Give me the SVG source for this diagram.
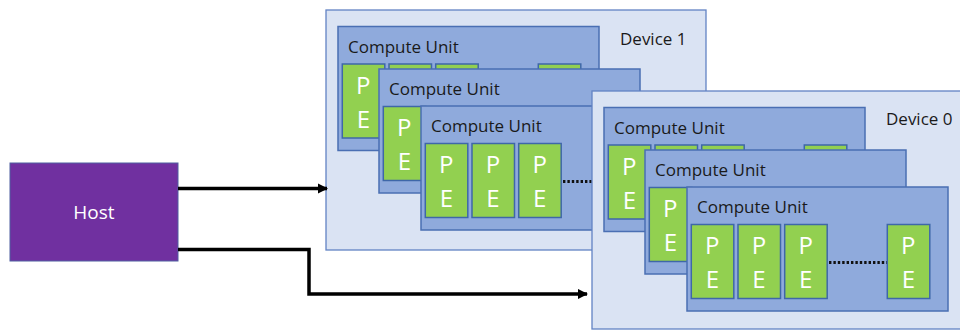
<svg xmlns="http://www.w3.org/2000/svg" width="960" height="330" viewBox="0 0 960 330">
  <defs>
    <style>
      .dev { fill: #dae3f3; stroke: #6283c4; stroke-width: 1.3; }
      .cu { fill: #8faadc; stroke: #4a6fb3; stroke-width: 1.5; }
      .pe { fill: #92d050; stroke: #3f67a8; stroke-width: 1.5; }
      .host { fill: #7030a0; stroke: #4f5fa0; stroke-width: 1; }
      .lbl { font-family: "Open Sans", "Noto Sans", sans-serif; font-size: 17px; fill: #1a1a1a; }
      .pl { font-family: "Open Sans", "Noto Sans", sans-serif; font-size: 24px; fill: #ffffff; text-anchor: middle; }
      .hl { font-family: "Open Sans", "Noto Sans", sans-serif; font-size: 19px; fill: #ffffff; text-anchor: middle; }
      .dots { stroke: #111111; stroke-width: 3; stroke-dasharray: 2.4 2; fill: none; }
      .wire { stroke: #000000; stroke-width: 3.5; fill: none; }
    </style>
    <marker id="arrow" viewBox="0 0 10 10" refX="9" refY="5" markerWidth="3" markerHeight="3" orient="auto" markerUnits="strokeWidth">
      <path d="M0,0 L10,5 L0,10 Z" fill="#000000"/>
    </marker>
  </defs>

  <!-- Device 1 (back); compute units are stacked, so only the front one shows its full PE row -->
  <g id="device1" transform="translate(326,10)">
    <rect class="dev" width="380" height="240"/>
    <text class="lbl" x="294" y="35">Device 1</text>
    <g id="d1-cu1" transform="translate(12,16.5)">
      <rect class="cu" width="261" height="124"/>
      <text class="lbl" x="10" y="26">Compute Unit</text>
      <g transform="translate(4.3,37.5)"><rect class="pe" width="42.5" height="74"/><text class="pl" x="21" y="29.5">P</text><text class="pl" x="21" y="63.5">E</text></g>
      <rect class="pe" x="51" y="37.5" width="42.5" height="74"/>
      <rect class="pe" x="97.7" y="37.5" width="42.5" height="74"/>
      <rect class="pe" x="200.3" y="37.5" width="42.5" height="74"/>
    </g>
    <g id="d1-cu2" transform="translate(53,59)">
      <rect class="cu" width="261" height="124"/>
      <text class="lbl" x="10" y="26">Compute Unit</text>
      <g transform="translate(4.3,37.5)"><rect class="pe" width="42.5" height="74"/><text class="pl" x="21" y="29.5">P</text><text class="pl" x="21" y="63.5">E</text></g>
    </g>
    <g id="d1-cu3" transform="translate(95,96)">
      <rect class="cu" width="261" height="124"/>
      <text class="lbl" x="10" y="26">Compute Unit</text>
      <g transform="translate(4.3,37.5)"><rect class="pe" width="42.5" height="74"/><text class="pl" x="21" y="29.5">P</text><text class="pl" x="21" y="63.5">E</text></g>
      <g transform="translate(51,37.5)"><rect class="pe" width="42.5" height="74"/><text class="pl" x="21" y="29.5">P</text><text class="pl" x="21" y="63.5">E</text></g>
      <g transform="translate(97.7,37.5)"><rect class="pe" width="42.5" height="74"/><text class="pl" x="21" y="29.5">P</text><text class="pl" x="21" y="63.5">E</text></g>
      <line class="dots" x1="142" y1="75.5" x2="200" y2="75.5"/>
    </g>
  </g>

  <!-- Device 0 (front) -->
  <g id="device0" transform="translate(592,91)">
    <rect class="dev" width="380" height="238"/>
    <text class="lbl" x="294" y="34">Device 0</text>
    <g id="d0-cu1" transform="translate(12,16.5)">
      <rect class="cu" width="261" height="124"/>
      <text class="lbl" x="10" y="26">Compute Unit</text>
      <g transform="translate(4.3,37.5)"><rect class="pe" width="42.5" height="74"/><text class="pl" x="21" y="29.5">P</text><text class="pl" x="21" y="63.5">E</text></g>
      <rect class="pe" x="51" y="37.5" width="42.5" height="74"/>
      <rect class="pe" x="97.7" y="37.5" width="42.5" height="74"/>
      <rect class="pe" x="200.3" y="37.5" width="42.5" height="74"/>
    </g>
    <g id="d0-cu2" transform="translate(53,59)">
      <rect class="cu" width="261" height="124"/>
      <text class="lbl" x="10" y="26">Compute Unit</text>
      <g transform="translate(4.3,37.5)"><rect class="pe" width="42.5" height="74"/><text class="pl" x="21" y="29.5">P</text><text class="pl" x="21" y="63.5">E</text></g>
    </g>
    <g id="d0-cu3" transform="translate(95,96)">
      <rect class="cu" width="261" height="124"/>
      <text class="lbl" x="10" y="26">Compute Unit</text>
      <g transform="translate(4.3,37.5)"><rect class="pe" width="42.5" height="74"/><text class="pl" x="21" y="29.5">P</text><text class="pl" x="21" y="63.5">E</text></g>
      <g transform="translate(51,37.5)"><rect class="pe" width="42.5" height="74"/><text class="pl" x="21" y="29.5">P</text><text class="pl" x="21" y="63.5">E</text></g>
      <g transform="translate(97.7,37.5)"><rect class="pe" width="42.5" height="74"/><text class="pl" x="21" y="29.5">P</text><text class="pl" x="21" y="63.5">E</text></g>
      <line class="dots" x1="142" y1="75.5" x2="200" y2="75.5"/>
      <g transform="translate(200.3,37.5)"><rect class="pe" width="42.5" height="74"/><text class="pl" x="21" y="29.5">P</text><text class="pl" x="21" y="63.5">E</text></g>
    </g>
  </g>

  <!-- Host -->
  <g id="host">
    <rect class="host" x="10" y="163" width="168" height="98"/>
    <text class="hl" x="94" y="219">Host</text>
  </g>

  <!-- Connectors -->
  <g id="connectors">
    <path class="wire" d="M178,188.5 L327,188.5" marker-end="url(#arrow)"/>
    <path class="wire" d="M178,249.5 L309,249.5 L309,294 L587,294" marker-end="url(#arrow)"/>
  </g>
</svg>
